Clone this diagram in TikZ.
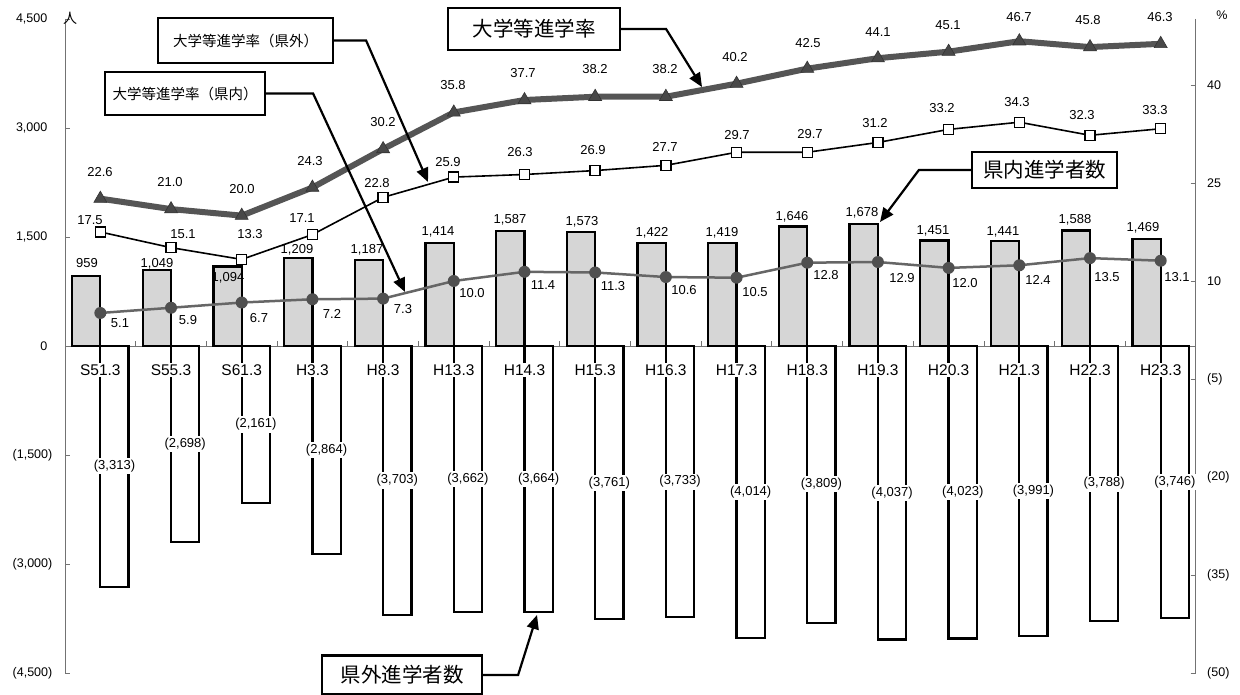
\documentclass[tikz,border=0pt]{standalone}
\usepackage{fontspec}
\setmainfont{Liberation Sans}
\newfontfamily\jp{Noto Sans CJK JP}
\usetikzlibrary{arrows.meta,shapes.geometric}
\definecolor{barfill}{HTML}{D6D6D6}
\definecolor{triline}{HTML}{555555}
\definecolor{trifill}{HTML}{484848}
\definecolor{dotline}{HTML}{666666}
\definecolor{dotfill}{HTML}{505050}
\begin{document}
\begin{tikzpicture}[x=1pt,y=-1pt,
  axisline/.style={draw=black!55, line width=0.9},
  posbar/.style={draw=black, line width=2.3, fill=barfill},
  negbar/.style={draw=black, line width=2.3, fill=white},
  num/.style={font=\fontsize{13}{15}\selectfont, inner sep=0.5},
  axlab/.style={font=\fontsize{12.5}{15}\selectfont, inner sep=0},
  catlab/.style={font=\fontsize{15.5}{17}\selectfont, fill=white, inner sep=1.5},
  neglab/.style={font=\fontsize{13}{15}\selectfont, fill=white, inner sep=2},
  callout/.style={draw=black, line width=2.2, fill=white, inner sep=0},
  conn/.style={line width=2.2, -{Triangle[length=14pt,width=12pt]}},
  trimark/.style={regular polygon, regular polygon sides=3, minimum size=15, inner sep=0, fill=trifill, draw=black!80, line width=0.6},
  sqmark/.style={rectangle, minimum size=10, inner sep=0, fill=white, draw=black, line width=1.4},
  dotmark/.style={circle, minimum size=12, inner sep=0, fill=dotfill},
]
\useasboundingbox (0,0) rectangle (1240,695);
\fill[white] (0,0) rectangle (1240,695);

% axes
\draw[axisline] (65,19) -- (65,673);
\draw[axisline] (1195.5,19) -- (1195.5,673);
\draw[axisline] (65,346) -- (1195.5,346);
\foreach \yy in {19,128,237,346,455,564,673}{\draw[axisline] (65,\yy) -- (70,\yy);}
\foreach \yy in {85,183,281,379,477,575,673}{\draw[axisline] (1190.5,\yy) -- (1195.5,\yy);}
\foreach \k in {1,...,15}{\draw[axisline] ({65+70.69*\k},346) -- ({65+70.69*\k},341);}

% axis labels
\node[axlab, anchor=east] (yl1) at (47.5,19) {4,500};
\node[axlab, anchor=east] (yl2) at (47.5,128) {3,000};
\node[axlab, anchor=east] (yl3) at (47.5,237) {1,500};
\node[axlab, anchor=east] (yl4) at (47.5,346) {0};
\node[axlab, anchor=east] (yl5) at (52.5,455) {(1,500)};
\node[axlab, anchor=east] (yl6) at (52.5,564) {(3,000)};
\node[axlab, anchor=east] (yl7) at (52.5,673) {(4,500)};
\node[inner sep=0, font=\jp\fontsize{14}{16}\selectfont] (unitL) at (70,18) {人};
\node[axlab, anchor=west] (yr1) at (1207,85) {40};
\node[axlab, anchor=west] (yr2) at (1207,183) {25};
\node[axlab, anchor=west] (yr3) at (1207,281) {10};
\node[axlab, anchor=west] (yr4) at (1207,379) {(5)};
\node[axlab, anchor=west] (yr5) at (1207,477) {(20)};
\node[axlab, anchor=west] (yr6) at (1207,575) {(35)};
\node[axlab, anchor=west] (yr7) at (1207,673) {(50)};
\node[axlab] (unitR) at (1222,15) {\%};

% bars, categories, series points
\foreach \i/\pos/\neg/\pa/\pb/\pc/\cat in {
 1/959/3313/5.1/17.5/22.6/S51.3,
 2/1049/2698/5.9/15.1/21.0/S55.3,
 3/1094/2161/6.7/13.3/20.0/S61.3,
 4/1209/2864/7.2/17.1/24.3/H3.3,
 5/1187/3703/7.3/22.8/30.2/H8.3,
 6/1414/3662/10.0/25.9/35.8/H13.3,
 7/1587/3664/11.4/26.3/37.7/H14.3,
 8/1573/3761/11.3/26.9/38.2/H15.3,
 9/1422/3733/10.6/27.7/38.2/H16.3,
 10/1419/4014/10.5/29.7/40.2/H17.3,
 11/1646/3809/12.8/29.7/42.5/H18.3,
 12/1678/4037/12.9/31.2/44.1/H19.3,
 13/1451/4023/12.0/33.2/45.1/H20.3,
 14/1441/3991/12.4/34.3/46.7/H21.3,
 15/1588/3788/13.5/32.3/45.8/H22.3,
 16/1469/3746/13.1/33.3/46.3/H23.3}{
  \pgfmathsetmacro\cx{65+70.69*(\i-0.5)}
  \draw[negbar] (\cx,346) rectangle ({\cx+28.3},{346+0.07267*\neg});
  \draw[posbar] ({\cx-28.3},346) rectangle (\cx,{346-0.07267*\pos});
  \node[catlab] (cat\i) at (\cx,370) {\cat};
  \coordinate (D\i) at (\cx,{346.3-6.533*\pa});
  \coordinate (S\i) at (\cx,{346.3-6.533*\pb});
  \coordinate (T\i) at (\cx,{346.3-6.533*\pc});
  \coordinate (NB\i) at ({\cx+14.15},{346+0.036335*\neg});
}

% negative bar labels
\foreach \i/\t in {1/{(3,313)},2/{(2,698)},3/{(2,161)},4/{(2,864)},5/{(3,703)},6/{(3,662)},7/{(3,664)},8/{(3,761)},9/{(3,733)},10/{(4,014)},11/{(3,809)},12/{(4,037)},13/{(4,023)},14/{(3,991)},15/{(3,788)},16/{(3,746)}}{
  \node[neglab] (nl\i) at (NB\i) {\t};
}

% series lines
\draw[line width=2.5, dotline, line join=round] (D1) foreach \i in {2,...,16}{ -- (D\i)};
\draw[line width=1.6, black, line join=round] (S1) foreach \i in {2,...,16}{ -- (S\i)};
\draw[line width=6, triline, line join=round] (T1) foreach \i in {2,...,16}{ -- (T\i)};
\foreach \i in {1,...,16}{
  \node[dotmark] (dm\i) at (D\i) {};
  \node[sqmark] (sm\i) at (S\i) {};
  \node[trimark] (tm\i) at (T\i) {};
}

% positive bar labels
\foreach \x/\y/\t [count=\i] in {87/263/959,157/264/{1,049},228/278/{1,094},297/250/{1,209},367/250/{1,187},438/232/{1,414},510/220/{1,587},582/222/{1,573},652/233/{1,422},722/233/{1,419},792/217/{1,646},862/213/{1,678},933/231/{1,451},1003/232/{1,441},1075/220/{1,588},1143/228/{1,469}}{
  \node[num] (pl\i) at (\x,\y) {\t};
}
% in-prefecture rate labels (dots)
\foreach \x/\y/\t [count=\i] in {120/323/5.1,188/320/5.9,259/318/6.7,332/314/7.2,403/309/7.3,472/293/10.0,543/285/11.4,613/286/11.3,684/290/10.6,755/292/10.5,826/275/12.8,902/278/12.9,965/283/12.0,1038/280/12.4,1107/277/13.5,1177/277/13.1}{
  \node[num] (dl\i) at (\x,\y) {\t};
}
% out-of-prefecture rate labels (squares)
\foreach \x/\y/\t [count=\i] in {90/220/17.5,183/234/15.1,250/234/13.3,302/218/17.1,377/183/22.8,448/162/25.9,520/152/26.3,593/150/26.9,665/147/27.7,737/135/29.7,810/134/29.7,875/123/31.2,942/108/33.2,1017/102/34.3,1082/115/32.3,1155/110/33.3}{
  \node[num] (sl\i) at (\x,\y) {\t};
}
% total rate labels (triangles)
\foreach \x/\y/\t [count=\i] in {100/172/22.6,170/182/21.0,242/189/20.0,310/161/24.3,383/122/30.2,453/85/35.8,523/73/37.7,595/69/38.2,665/69/38.2,735/57/40.2,808/43/42.5,878/32/44.1,948/25/45.1,1019/17/46.7,1088/20/45.8,1160/17/46.3}{
  \node[num] (tl\i) at (\x,\y) {\t};
}

% callouts
\node[callout, minimum width=175, minimum height=45, font=\jp\fontsize{14.5}{16}\selectfont] (B1) at (245.5,40.5) {大学等進学率（県外）};
\node[callout, minimum width=160, minimum height=43, font=\jp\fontsize{14.5}{16}\selectfont] (B2) at (185,93.5) {大学等進学率（県内）};
\node[callout, minimum width=172, minimum height=42, font=\jp\fontsize{20.5}{23}\selectfont] (B3) at (534,29) {大学等進学率};
\node[callout, minimum width=145, minimum height=36, font=\jp\fontsize{20.5}{23}\selectfont] (B4) at (1044.5,170) {県内進学者数};
\node[callout, minimum width=160, minimum height=39, font=\jp\fontsize{20.5}{23}\selectfont] (B5) at (402,675) {県外進学者数};

\coordinate (tip1) at (428,182);
\coordinate (tip2) at (405,292);
\coordinate (tip3) at (702,87);
\coordinate (tip4) at (880,222);
\coordinate (tip5) at (537,615);
\draw[conn] (B1.east) -- ++(32,0) -- (tip1);
\draw[conn] (B2.east) -- ++(47,0) -- (tip2);
\draw[conn] (B3.east) -- ++(45,0) -- (tip3);
\draw[conn] (B4.west) -- ++(-52,0) -- (tip4);
\draw[conn] (B5.east) -- ++(35,0) -- (tip5);
\end{tikzpicture}
\end{document}
